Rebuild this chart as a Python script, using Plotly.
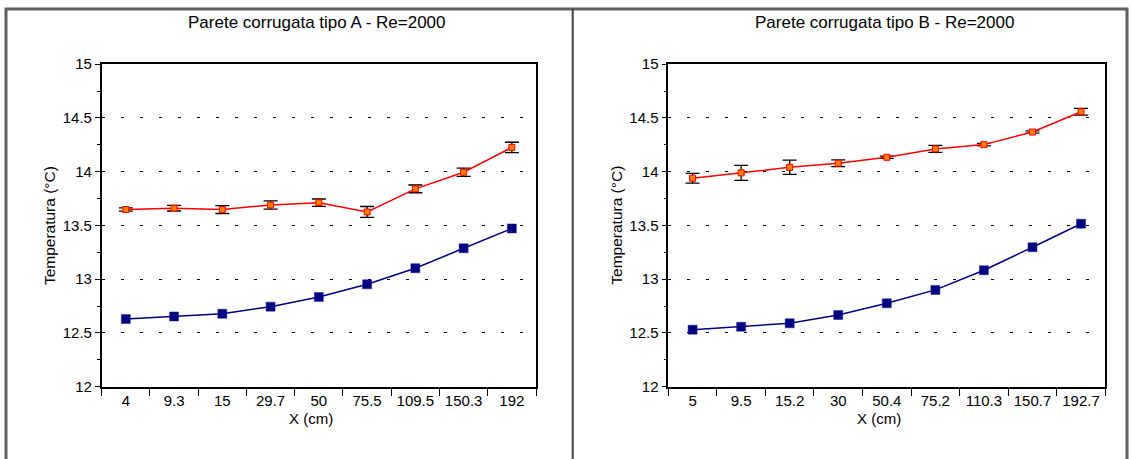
import plotly.graph_objects as go

W, H = 1133, 459
# the photographed page is mapped as: screen_y = 9 + 0.964 * page_y
OFF_Y, SCALE_Y = 9.0, 0.964

cats_a = ["4", "9.3", "15", "29.7", "50", "75.5", "109.5", "150.3", "192"]
red_a = [13.648, 13.66, 13.648, 13.69, 13.712, 13.625, 13.84, 13.995, 14.226]
red_a_err = [0.015, 0.026, 0.037, 0.039, 0.034, 0.051, 0.036, 0.039, 0.048]
blue_a = [12.628, 12.653, 12.678, 12.744, 12.833, 12.952, 13.102, 13.287, 13.472]

cats_b = ["5", "9.5", "15.2", "30", "50.4", "75.2", "110.3", "150.7", "192.7"]
red_b = [13.939, 13.989, 14.041, 14.079, 14.134, 14.212, 14.252, 14.369, 14.558]
red_b_err = [0.046, 0.07, 0.066, 0.031, 0.01, 0.032, 0.011, 0.011, 0.032]
blue_b = [12.53, 12.557, 12.589, 12.666, 12.775, 12.9, 13.083, 13.297, 13.516]

titles = ["Parete corrugata tipo A - Re=2000", "Parete corrugata tipo B - Re=2000"]
x_title = "X (cm)"
y_title = "Temperatura (°C)"

FONT = "Liberation Sans, Arial, sans-serif"

def px(x):
    return x / W

def py(y):
    page_y = max((y - OFF_Y) / SCALE_Y, 0.0)
    return 1 - page_y / H

fig = go.Figure()

panels = [
    (cats_a, red_a, red_a_err, blue_a, "x", "y", (101.7, 536.0)),
    (cats_b, red_b, red_b_err, blue_b, "x2", "y2", (668.3, 1105.3)),
]

for cats, red, err, blue, xa, ya, _ in panels:
    fig.add_trace(go.Scatter(
        x=cats, y=blue, mode="lines+markers", xaxis=xa, yaxis=ya,
        line=dict(color="#000080", width=1.5),
        marker=dict(symbol="square", size=9, color="#000080",
                    line=dict(color="#20209a", width=0.5)),
        showlegend=False, hoverinfo="skip"))
    fig.add_trace(go.Scatter(
        x=cats, y=red, mode="lines+markers", xaxis=xa, yaxis=ya,
        line=dict(color="#ff0000", width=1.5),
        marker=dict(symbol="square", size=6, color="#ff8000",
                    line=dict(color="#ff0000", width=1)),
        error_y=dict(type="data", array=err, visible=True,
                     color="black", thickness=1.3, width=7),
        showlegend=False, hoverinfo="skip"))

layout = dict(
    width=W, height=H, autosize=False,
    margin=dict(l=0, r=0, t=0, b=0),
    paper_bgcolor="white", plot_bgcolor="white",
    font=dict(family=FONT, size=15, color="black"),
)

ytop, ybot = 64.3, 387.0
for i, (cats, _, _, _, xa, ya, (xl, xr)) in enumerate(panels):
    xkey = "xaxis" if i == 0 else "xaxis2"
    ykey = "yaxis" if i == 0 else "yaxis2"
    layout[xkey] = dict(
        type="category", categoryorder="array", categoryarray=cats,
        domain=[px(xl), px(xr)], anchor=ya,
        range=[-0.5, len(cats) - 0.5],
        showline=True, linecolor="black", linewidth=1.5, mirror=True,
        ticks="outside", tickson="boundaries", ticklen=8, tickwidth=1.2,
        tickcolor="black", showgrid=False, zeroline=False,
        tickfont=dict(size=15, family=FONT),
    )
    layout[ykey] = dict(
        domain=[py(ybot), py(ytop)], anchor=xa,
        range=[12, 15], dtick=0.5, tick0=12,
        showline=True, linecolor="black", linewidth=1.5, mirror=True,
        ticks="outside", ticklen=5, tickwidth=1.2, tickcolor="black",
        showgrid=True, gridcolor="black", gridwidth=1, griddash="3px,16px",
        zeroline=False,
        minor=dict(dtick=0.25, ticks="outside", ticklen=3, tickwidth=1,
                   tickcolor="black", showgrid=False),
        tickfont=dict(size=15, family=FONT),
    )

annotations = []
shapes = []
for i, (cats, _, _, _, xa, ya, (xl, xr)) in enumerate(panels):
    cx = (xl + xr) / 2
    annotations.append(dict(text=titles[i], x=px(cx - 2), y=py(23), xref="paper",
                            yref="paper", showarrow=False, xanchor="center",
                            yanchor="middle", font=dict(size=17, family=FONT)))
    annotations.append(dict(text=x_title, x=px(cx - 8), y=py(419), xref="paper",
                            yref="paper", showarrow=False, xanchor="center",
                            yanchor="middle", font=dict(size=15, family=FONT)))
    annotations.append(dict(text=y_title, x=px(xl - 52), y=py((ytop + ybot) / 2),
                            xref="paper", yref="paper", showarrow=False,
                            textangle=-90, xanchor="center", yanchor="middle",
                            font=dict(size=15.5, family=FONT)))

shapes.append(dict(type="rect", xref="paper", yref="paper",
                   x0=px(6), x1=px(1127), y0=-0.1, y1=1.0,
                   line=dict(color="#606060", width=3)))
shapes.append(dict(type="line", xref="paper", yref="paper",
                   x0=px(572.7), x1=px(572.7), y0=-0.1, y1=1.0,
                   line=dict(color="#404040", width=2)))

layout["annotations"] = annotations
layout["shapes"] = shapes
fig.update_layout(**layout)

post = (
    "document.documentElement.style.margin='0';"
    "document.documentElement.style.padding='0';"
    "document.documentElement.style.overflow='hidden';"
    "document.body.style.margin='0';"
    "document.body.style.padding='0';"
    "document.body.style.overflow='hidden';"
    "var gd=document.getElementById('{plot_id}');"
    "gd.style.position='fixed';gd.style.left='0px';gd.style.top='0px';"
)

fig.write_html("out.html", config={"displayModeBar": False}, post_script=post)
